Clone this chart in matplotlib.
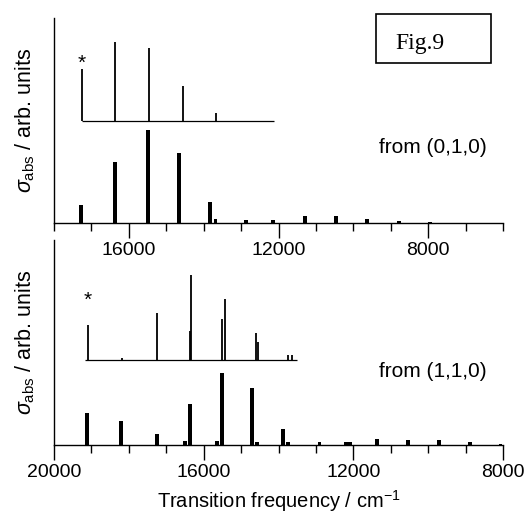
import matplotlib
matplotlib.use("Agg")
import matplotlib.pyplot as plt
from matplotlib.patches import Rectangle
from matplotlib.ticker import MultipleLocator

plt.rcParams['font.family'] = ['Liberation Sans', 'DejaVu Sans']
plt.rcParams['mathtext.fontset'] = 'custom'
plt.rcParams['mathtext.rm'] = 'Liberation Sans'
plt.rcParams['mathtext.it'] = 'Liberation Sans:italic'

# upper panel: from (0,1,0), calculated stick spectrum
freq_010 = [17280, 16370, 15490, 14660, 13830, 13680, 12870, 12150, 11290, 10470, 9640, 8780, 7950]
int_010 = [18, 61, 93, 70, 21, 4, 3, 3, 7, 7, 4, 2, 1]
# upper inset: experimental peaks
pk_freq_010 = [17257, 16374, 15465, 14556, 13674]
pk_int_010 = [52, 79, 73, 35, 8]
span_010 = (17257, 12120)

# lower panel: from (1,1,0)
freq_110 = [19120, 18210, 17250, 16500, 16360, 15640, 15510, 14710, 14570,
            13880, 13740, 12910, 12190, 12090, 11360, 10540, 9710, 8880, 8070]
int_110 = [32, 24, 11, 4, 41, 4, 72, 57, 3, 16, 3, 3, 3, 3, 6, 5, 5, 3, 1]
pk_freq_110 = [19091, 18182, 17246, 16364, 16337, 15508, 15428, 14599, 14545, 13743, 13636]
pk_int_110 = [35, 2, 47, 29, 85, 41, 61, 27, 18, 5, 5]
span_110 = (19170, 13500)

fig = plt.figure(figsize=(5.3, 5.15), dpi=100)
ax1 = fig.add_axes([0.102, 0.567, 0.847, 0.398])
ax2 = fig.add_axes([0.102, 0.136, 0.847, 0.398])
ax2.patch.set_visible(False)


def panel(ax, xlim, freqs, ints, pk_f, pk_i, span, base, star_y, label, label_y):
    ax.bar(freqs, ints, width=95, color='black', linewidth=0)
    ax.hlines(base, span[0], span[1], color='black', lw=0.9)
    ax.vlines(pk_f, base, [base + h for h in pk_i], color='black', lw=1.3)
    ax.text(pk_f[0], star_y, '*', fontsize=15, ha='center', va='center')
    ax.text(0.844, label_y, label, transform=ax.transAxes, fontsize=15, ha='center', va='center')
    ax.set_xlim(*xlim)
    ax.set_ylim(0, 205)
    ax.xaxis.set_major_locator(MultipleLocator(4000))
    ax.xaxis.set_minor_locator(MultipleLocator(1000))
    ax.tick_params(axis='x', which='major', direction='out', length=11, width=1, labelsize=14, pad=3)
    ax.tick_params(axis='x', which='minor', direction='out', length=6, width=1)
    ax.set_yticks([])
    for s in ['top', 'right']:
        ax.spines[s].set_visible(False)
    for s in ['left', 'bottom']:
        ax.spines[s].set_linewidth(1.0)
    ax.set_ylabel(r'$\sigma_{\rm abs}$ / arb. units', fontsize=15.5, labelpad=12)


panel(ax1, (18000, 6000), freq_010, int_010, pk_freq_010, pk_int_010, span_010, 102, 160, 'from (0,1,0)', 0.37)
panel(ax2, (20000, 8000), freq_110, int_110, pk_freq_110, pk_int_110, span_110, 85, 145, 'from (1,1,0)', 0.356)

ax2.set_xlabel(r'Transition frequency / cm$^{\mathregular{-1}}$', fontsize=14.5, labelpad=5)

fig.patches.append(Rectangle((0.709, 0.878), 0.217, 0.095, transform=fig.transFigure,
                             fill=False, ec='black', lw=1.2))
fig.text(0.793, 0.915, 'Fig.9', family=['Liberation Serif'], fontsize=17, ha='center', va='center')

fig.savefig('out.png', dpi=100)
